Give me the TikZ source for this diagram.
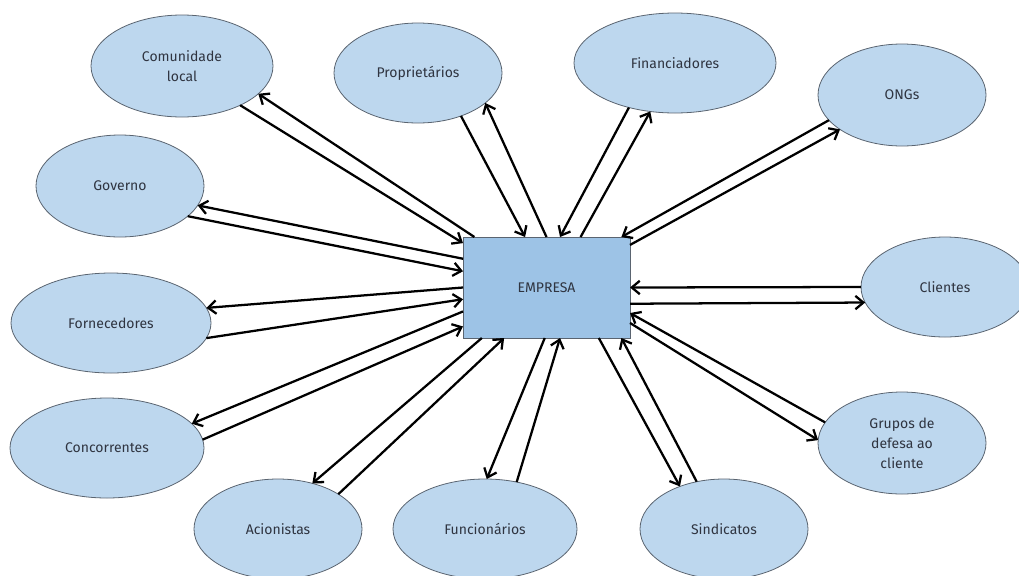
\documentclass[tikz,border=0pt]{standalone}
\usepackage{fontspec}
\setmainfont{Fira Sans}
\usetikzlibrary{arrows.meta,shapes.geometric}
\definecolor{ellfill}{HTML}{BDD7EE}
\definecolor{boxfill}{HTML}{9DC3E6}
\definecolor{edge}{HTML}{5A6470}
\definecolor{txt}{HTML}{2F3440}
\begin{document}
\begin{tikzpicture}[x=0.75pt,y=-0.75pt,
  stake/.style={ellipse, draw=edge, fill=ellfill, line width=0.6pt, inner sep=0pt, outer sep=0pt,
    font=\fontsize{10.5}{15}\selectfont, text=txt, align=center},
  hub/.style={rectangle, draw=edge, fill=boxfill, line width=0.7pt, inner sep=0pt, outer sep=0pt,
    font=\fontsize{10.5}{15}\selectfont, text=txt, minimum width=125.25pt, minimum height=75.75pt},
  link/.style={line width=1.7pt, -{Straight Barb[length=6pt,width=10pt]}}]
\useasboundingbox (0,0) rectangle (1019,575);
\clip (0,0) rectangle (1019,575);

\node[hub] (emp) at (546.5,287.5) {EMPRESA};

\node[stake, minimum width=136.5pt, minimum height=76.5pt] (com) at (182,66) {Comunidade\\local};
\node[stake, minimum width=126pt, minimum height=75pt] (pro) at (418,73) {Proprietários};
\node[stake, minimum width=151.5pt, minimum height=75pt] (fin) at (675,63) {Financiadores};
\node[stake, minimum width=126pt, minimum height=76.5pt] (ong) at (902,95) {ONGs};
\node[stake, minimum width=126pt, minimum height=76.5pt] (gov) at (120,186) {Governo};
\node[stake, minimum width=126pt, minimum height=75pt] (cli) at (945,287) {Clientes};
\node[stake, minimum width=150pt, minimum height=75pt] (for) at (111,323) {Fornecedores};
\node[stake, minimum width=126pt, minimum height=76.5pt] (gru) at (902,443) {Grupos de\\defesa ao\\cliente};
\node[stake, minimum width=145.5pt, minimum height=75pt] (con) at (107,448) {Concorrentes};
\node[stake, minimum width=126pt, minimum height=75pt] (aci) at (278,529) {Acionistas};
\node[stake, minimum width=138pt, minimum height=75pt] (fun) at (485,529) {Funcionários};
\node[stake, minimum width=126pt, minimum height=75pt] (sin) at (724,529) {Sindicatos};

\draw[link] (emp.145.9) -- (com.340.2);
\draw[link] (com.326.8) -- (emp.152.5);
\draw[link] (emp.161.8) -- (gov.346.9);
\draw[link] (gov.336.3) -- (emp.169.5);
\draw[link] (emp.180) -- (for.9.4);
\draw[link] (for.351.7) -- (emp.188.5);
\draw[link] (emp.196.4) -- (con.16.2);
\draw[link] (con.5.2) -- (emp.205.3);
\draw[link] (emp.218.5) -- (aci.53.1);
\draw[link] (aci.30.8) -- (emp.230.6);
\draw[link] (emp.268.3) -- (fun.88.9);
\draw[link] (fun.56.9) -- (emp.285);
\draw[link] (emp.316.7) -- (sin.136.1);
\draw[link] (sin.120.4) -- (emp.326.9);
\draw[link] (emp.337) -- (gru.178.7);
\draw[link] (gru.165.1) -- (emp.343);
\draw[link] (cli.180) -- (emp.0);
\draw[link] (emp.349.5) -- (cli.191.1);
\draw[link] (ong.199.1) -- (emp.34.1);
\draw[link] (emp.27) -- (ong.209.8);
\draw[link] (fin.224.4) -- (emp.75);
\draw[link] (emp.56.4) -- (fin.243.4);
\draw[link] (pro.315.6) -- (emp.113.1);
\draw[link] (emp.90) -- (pro.336.5);
\end{tikzpicture}
\end{document}
